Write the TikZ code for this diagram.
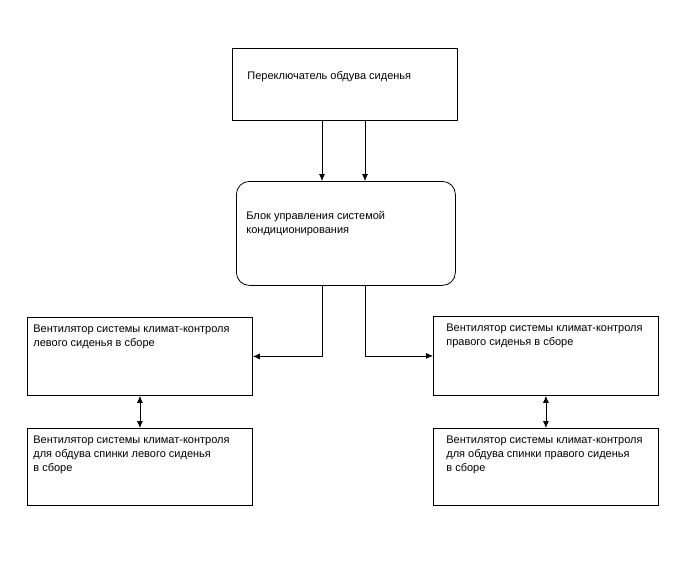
\documentclass[tikz,border=0pt]{standalone}
\usepackage{fontspec}
\setmainfont{Liberation Sans}
\usetikzlibrary{arrows.meta}

\tikzset{
  blk/.style={draw, line width=0.8pt, anchor=north west, inner ysep=7.5pt, inner xsep=6pt,
    font=\fontsize{11}{14}\selectfont, align=left},
  arr/.style={line width=0.8pt, -{Latex[length=7pt,width=6pt]}},
  darr/.style={line width=0.8pt, {Latex[length=7pt,width=6pt]}-{Latex[length=7pt,width=6pt]}}
}
\newcommand{\boxtxt}[3]{\parbox[t][#2][t]{#1}{\raggedright #3}}

\begin{document}
\begin{tikzpicture}[x=1pt,y=-1pt]
\useasboundingbox (0,0) rectangle (688,560);

\node[blk, inner xsep=15pt, inner ysep=23pt] (switch) at (232,48)
  {\boxtxt{195pt}{26pt}{Переключатель обдува сиденья}};
\node[blk, rounded corners=13pt, inner xsep=10pt, inner ysep=29.5pt] (ctrl) at (236,181)
  {\boxtxt{199pt}{45pt}{Блок управления системой\\кондиционирования}};
\node[blk] (fanL) at (27,317)
  {\boxtxt{213pt}{63pt}{Вентилятор системы климат-контроля\\левого сиденья в сборе}};
\node[blk, inner xsep=13pt] (fanR) at (433,316)
  {\boxtxt{199pt}{64pt}{Вентилятор системы климат-контроля\\правого сиденья в сборе}};
\node[blk] (backL) at (27,428)
  {\boxtxt{213pt}{62pt}{Вентилятор системы климат-контроля\\для обдува спинки левого сиденья\\в сборе}};
\node[blk, inner xsep=13pt] (backR) at (433,428)
  {\boxtxt{199pt}{62pt}{Вентилятор системы климат-контроля\\для обдува спинки правого сиденья\\в сборе}};

\draw[arr] (switch.south -| 322,0) -- (ctrl.north -| 322,0);
\draw[arr] (switch.south -| 365,0) -- (ctrl.north -| 365,0);
\draw[arr] (ctrl.south -| 322,0) |- (fanL.east);
\draw[arr] (ctrl.south -| 365,0) |- (fanR.west);
\draw[darr] (fanL.south) -- (backL.north);
\draw[darr] (fanR.south) -- (backR.north);
\end{tikzpicture}
\end{document}
